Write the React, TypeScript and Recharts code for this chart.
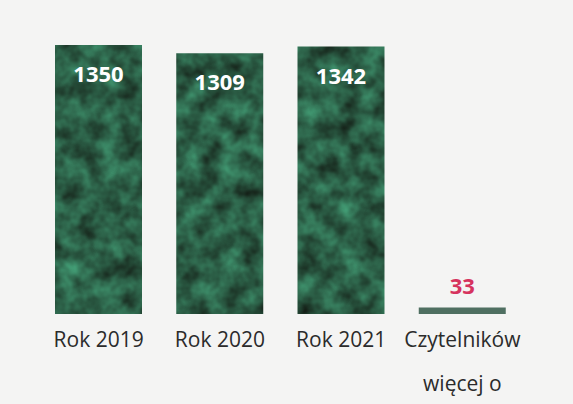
import { BarChart, Bar, XAxis, YAxis, LabelList, Cell } from 'recharts';

const categories = ['Rok 2019', 'Rok 2020', 'Rok 2021', 'Czytelników więcej o'];
const readers = [1350, 1309, 1342, 33];

const data = categories.map((name, i) => ({ name, readers: readers[i] }));

const font = '"Open Sans", "Noto Sans", sans-serif';

function Tick(props: any) {
  const { x, y, payload } = props;
  const words = String(payload.value).split(' ');
  const lines = words.length > 2 ? [words[0], words.slice(1).join(' ')] : [payload.value];
  return (
    <g>
      {lines.map((line: string, i: number) => (
        <text key={i} x={x} y={y + 25 + i * 44} textAnchor="middle" fill="#2b2b2b" fontSize={21} fontFamily={font}>
          {line}
        </text>
      ))}
    </g>
  );
}

function ValueLabel(props: any) {
  const { x, y, width, value } = props;
  const cx = x + width / 2;
  if (value < 200) {
    return (
      <text x={cx} y={y - 22} textAnchor="middle" dominantBaseline="central" fill="#d6335e" fontSize={22} fontWeight="bold" fontFamily={font}>
        {value}
      </text>
    );
  }
  return (
    <text x={cx} y={y + 28} textAnchor="middle" dominantBaseline="central" fill="#ffffff" fontSize={22} fontWeight="bold" fontFamily={font}>
      {value}
    </text>
  );
}

export default function App() {
  return (
    <div style={{ position: 'absolute', left: 0, top: 0, width: 573, height: 404, background: '#f4f4f3' }}>
      <BarChart width={573} height={404} data={data} margin={{ top: 45, right: 50, left: 38, bottom: 10 }} barSize={87}>
        <defs>
          {/* mottled green marble look of the scanned bars */}
          <filter id="marble" x="0" y="0" width="100%" height="100%" colorInterpolationFilters="sRGB">
            <feTurbulence type="fractalNoise" baseFrequency="0.05" numOctaves="3" seed="7" result="noise" />
            <feColorMatrix
              in="noise"
              type="matrix"
              values="0.22 0 0 0 0.06  0.6 0 0 0 0.07  0.45 0 0 0 0.05  0 0 0 0 1"
              result="tint"
            />
            <feComposite in="tint" in2="SourceGraphic" operator="in" />
          </filter>
        </defs>
        <XAxis dataKey="name" axisLine={false} tickLine={false} interval={0} height={80} tick={<Tick />} />
        <YAxis hide domain={[0, 1350]} />
        <Bar dataKey="readers" isAnimationActive={false}>
          {data.map((d, i) => (
            <Cell key={i} fill={d.readers < 200 ? '#4f6f61' : '#2d6a4f'} filter={d.readers < 200 ? undefined : 'url(#marble)'} />
          ))}
          <LabelList dataKey="readers" content={<ValueLabel />} />
        </Bar>
      </BarChart>
    </div>
  );
}
